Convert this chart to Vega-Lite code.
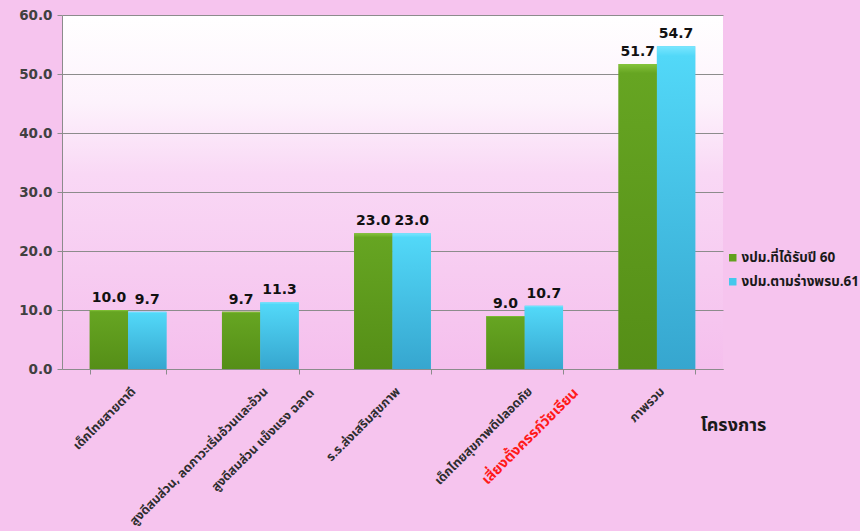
{
  "$schema": "https://vega.github.io/schema/vega-lite/v6.json",
  "autosize": {"type": "none"},
  "padding": {"left": 62, "top": 15, "right": 137, "bottom": 162},
  "width": 661,
  "height": 354,
  "background": "#f6c4ee",
  "config": {
    "view": {
      "stroke": null,
      "fill": {"gradient": "linear", "x1": 0, "y1": 0, "x2": 0, "y2": 1, "stops": [{"offset": 0, "color": "#ffffff"}, {"offset": 0.25, "color": "#fdf2fc"}, {"offset": 0.45, "color": "#f9d8f5"}, {"offset": 1, "color": "#f5bfed"}]}
    },
    "font": "Noto Sans Thai, Tahoma, DejaVu Sans, sans-serif"
  },
  "datasets": {
    "main": [
      {"cat": "เด็กไทยสายตาดี", "s": "งปม.ที่ได้รับปี 60", "v": 10.0},
      {"cat": "เด็กไทยสายตาดี", "s": "งปม.ตามร่างพรบ.61", "v": 9.7},
      {"cat": "สูงดีสมส่วน, ลดภาวะเริ่มอ้วนและอ้วน", "s": "งปม.ที่ได้รับปี 60", "v": 9.7},
      {"cat": "สูงดีสมส่วน, ลดภาวะเริ่มอ้วนและอ้วน", "s": "งปม.ตามร่างพรบ.61", "v": 11.3},
      {"cat": "ร.ร.ส่งเสริมสุขภาพ", "s": "งปม.ที่ได้รับปี 60", "v": 23.0},
      {"cat": "ร.ร.ส่งเสริมสุขภาพ", "s": "งปม.ตามร่างพรบ.61", "v": 23.0},
      {"cat": "เด็กไทยสุขภาพดีปลอดภัย", "s": "งปม.ที่ได้รับปี 60", "v": 9.0},
      {"cat": "เด็กไทยสุขภาพดีปลอดภัย", "s": "งปม.ตามร่างพรบ.61", "v": 10.7},
      {"cat": "ภาพรวม", "s": "งปม.ที่ได้รับปี 60", "v": 51.7},
      {"cat": "ภาพรวม", "s": "งปม.ตามร่างพรบ.61", "v": 54.7}
    ],
    "subs": [
      {"cat": "สูงดีสมส่วน, ลดภาวะเริ่มอ้วนและอ้วน", "sub": "สูงดีสมส่วน แข็งแรง ฉลาด"},
      {"cat": "เด็กไทยสุขภาพดีปลอดภัย", "sub": "เสี่ยงตั้งครรภ์วัยเรียน"}
    ]
  },
  "layer": [
    {
      "data": {"name": "main"},
      "mark": {"type": "bar", "strokeWidth": 0},
      "encoding": {
        "x": {
          "field": "cat", "type": "nominal",
          "sort": ["เด็กไทยสายตาดี", "สูงดีสมส่วน, ลดภาวะเริ่มอ้วนและอ้วน", "ร.ร.ส่งเสริมสุขภาพ", "เด็กไทยสุขภาพดีปลอดภัย", "ภาพรวม"],
          "scale": {"paddingInner": 0.42, "paddingOuter": 0.21},
          "axis": {
            "title": "โครงการ",
            "titleFontSize": 18, "titleFontWeight": "bold", "titleColor": "#1a1a1a",
            "titleX": 671, "titleY": 56, "titleAlign": "center", "titleBaseline": "middle",
            "labelAngle": -45, "labelAlign": "right", "labelBaseline": "middle",
            "labelPadding": 15, "labelOffset": 5, "labelFontSize": 12.5, "labelFontWeight": "bold", "labelColor": "#2e2e2e",
            "labelLimit": 400,
            "tickBand": "extent", "tickSize": 5, "tickColor": "#8c8c8c", "domainColor": "#8c8c8c", "grid": false
          }
        },
        "xOffset": {"field": "s", "type": "nominal", "sort": ["งปม.ที่ได้รับปี 60", "งปม.ตามร่างพรบ.61"]},
        "y": {
          "field": "v", "type": "quantitative",
          "scale": {"domain": [0, 60], "nice": false},
          "axis": {
            "title": null, "values": [0, 10, 20, 30, 40, 50, 60], "format": ".1f",
            "labelFont": "DejaVu Sans", "labelFontSize": 13.5, "labelFontWeight": "bold", "labelColor": "#404040",
            "labelPadding": 5, "tickSize": 5, "tickColor": "#8c8c8c", "domainColor": "#8c8c8c",
            "gridColor": "#8c8c8c", "gridWidth": 1
          }
        },
        "color": {
          "field": "s", "type": "nominal",
          "sort": ["งปม.ที่ได้รับปี 60", "งปม.ตามร่างพรบ.61"],
          "scale": {"range": ["#62a01e", "#45c8ec"]},
          "legend": {
            "title": null, "orient": "none", "legendX": 664, "legendY": 236,
            "symbolType": "square", "symbolSize": 56, "symbolStrokeWidth": 0,
            "labelFontSize": 13.5, "labelFontWeight": "bold", "labelColor": "#1a1a1a",
            "rowPadding": 9, "labelOffset": 2, "labelLimit": 200
          }
        }
      }
    },
    {
      "data": {"name": "main"},
      "mark": {"type": "bar", "strokeWidth": 0},
      "encoding": {
        "x": {"field": "cat", "type": "nominal", "sort": ["เด็กไทยสายตาดี", "สูงดีสมส่วน, ลดภาวะเริ่มอ้วนและอ้วน", "ร.ร.ส่งเสริมสุขภาพ", "เด็กไทยสุขภาพดีปลอดภัย", "ภาพรวม"]},
        "xOffset": {"field": "s", "type": "nominal", "sort": ["งปม.ที่ได้รับปี 60", "งปม.ตามร่างพรบ.61"]},
        "y": {"field": "v", "type": "quantitative"},
        "fill": {
          "condition": {
            "test": "datum.s === 'งปม.ที่ได้รับปี 60'",
            "value": {"gradient": "linear", "x1": 0, "y1": 0, "x2": 0, "y2": 1, "stops": [{"offset": 0, "color": "#86c43c"}, {"offset": 0.03, "color": "#66a522"}, {"offset": 1, "color": "#558e17"}]}
          },
          "value": {"gradient": "linear", "x1": 0, "y1": 0, "x2": 0, "y2": 1, "stops": [{"offset": 0, "color": "#7ae6ff"}, {"offset": 0.03, "color": "#52d8f8"}, {"offset": 1, "color": "#36a6cf"}]}
        }
      }
    },
    {
      "data": {"name": "main"},
      "mark": {"type": "text", "baseline": "bottom", "dy": -5, "font": "DejaVu Sans", "fontSize": 14, "fontWeight": "bold", "color": "#111111"},
      "encoding": {
        "x": {"field": "cat", "type": "nominal", "sort": ["เด็กไทยสายตาดี", "สูงดีสมส่วน, ลดภาวะเริ่มอ้วนและอ้วน", "ร.ร.ส่งเสริมสุขภาพ", "เด็กไทยสุขภาพดีปลอดภัย", "ภาพรวม"]},
        "xOffset": {"field": "s", "type": "nominal", "sort": ["งปม.ที่ได้รับปี 60", "งปม.ตามร่างพรบ.61"]},
        "y": {"field": "v", "type": "quantitative"},
        "text": {"field": "v", "type": "quantitative", "format": ".1f"}
      }
    },
    {
      "data": {"name": "subs"},
      "mark": {"type": "text", "angle": -45, "align": "right", "baseline": "middle", "dx": 21, "dy": 52, "fontWeight": "bold"},
      "encoding": {
        "x": {"field": "cat", "type": "nominal", "sort": ["เด็กไทยสายตาดี", "สูงดีสมส่วน, ลดภาวะเริ่มอ้วนและอ้วน", "ร.ร.ส่งเสริมสุขภาพ", "เด็กไทยสุขภาพดีปลอดภัย", "ภาพรวม"]},
        "y": {"datum": 0, "type": "quantitative"},
        "text": {"field": "sub", "type": "nominal"},
        "color": {"condition": {"test": "datum.cat === 'เด็กไทยสุขภาพดีปลอดภัย'", "value": "#ff1a1a"}, "value": "#2e2e2e"},
        "size": {"condition": {"test": "datum.cat === 'เด็กไทยสุขภาพดีปลอดภัย'", "value": 14.5}, "value": 12.5}
      }
    }
  ]
}
